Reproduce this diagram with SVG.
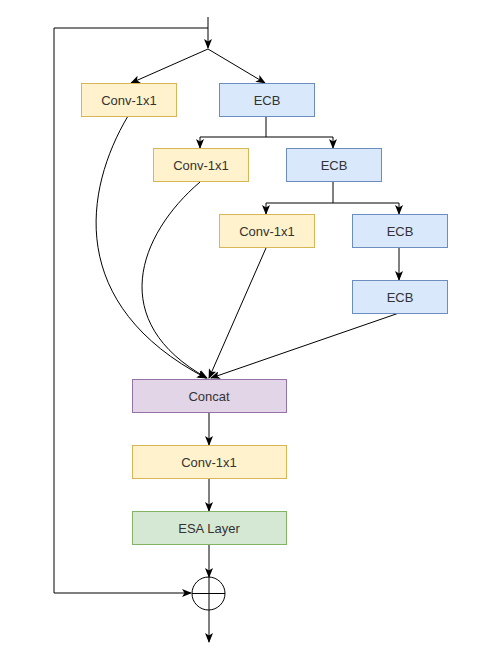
<svg xmlns="http://www.w3.org/2000/svg" width="489" height="658" viewBox="0 0 489 658">
<defs>
<marker id="arr" viewBox="0 0 10 8" refX="9" refY="4" markerWidth="10" markerHeight="8" markerUnits="userSpaceOnUse" orient="auto">
<path d="M0,0 L10,4 L0,8 L2.5,4 Z" fill="#000"/>
</marker>
<style>
text{font-family:"Liberation Sans",Arial,sans-serif;font-size:13px;fill:#333;text-anchor:middle;dominant-baseline:central}
.y{fill:#fff2cc;stroke:#d6b656}
.b{fill:#dae8fc;stroke:#6c8ebf}
.p{fill:#e1d5e7;stroke:#9673a6}
.g{fill:#d5e8d4;stroke:#82b366}
.e{fill:none;stroke:#000;stroke-width:1}
.a{marker-end:url(#arr)}
</style>
</defs>
<rect width="489" height="658" fill="#fff"/>
<g id="connectors">
<path class="e a" d="M208,17 V48"/>
<path class="e" d="M208,28 H54 V593"/>
<path class="e a" d="M54,593 H191"/>
<path class="e a" d="M208,49 L131,83"/>
<path class="e a" d="M208,49 L265,83"/>
<path class="e" d="M266,116 V137 H200 M266,137 H333"/>
<path class="e a" d="M200,137 V148"/>
<path class="e a" d="M333,137 V148"/>
<path class="e" d="M333,182 V203 H266 M333,203 H399"/>
<path class="e a" d="M266,203 V214"/>
<path class="e a" d="M399,203 V214"/>
<path class="e a" d="M399,248 V280"/>
<path class="e a" d="M128,116 C84,190 66,305 206,378"/>
<path class="e a" d="M200,182 C138,235 106,322 207,378"/>
<path class="e a" d="M266,248 L209,378"/>
<path class="e a" d="M399,313 L211,378"/>
<path class="e a" d="M209,412 V445"/>
<path class="e a" d="M209,478 V511"/>
<path class="e a" d="M209,544 V577"/>
<path class="e a" d="M209,577 V642"/>
</g>
<g id="conv1"><rect class="y" x="81.5" y="83.5" width="95" height="33"/><text x="129" y="100">Conv-1x1</text></g>
<g id="ecb1"><rect class="b" x="219.5" y="83.5" width="95" height="33"/><text x="267" y="100">ECB</text></g>
<g id="conv2"><rect class="y" x="153.5" y="148.5" width="95" height="33"/><text x="201" y="165">Conv-1x1</text></g>
<g id="ecb2"><rect class="b" x="286.5" y="148.5" width="95" height="33"/><text x="334" y="165">ECB</text></g>
<g id="conv3"><rect class="y" x="219.5" y="214.5" width="95" height="33"/><text x="267" y="231">Conv-1x1</text></g>
<g id="ecb3"><rect class="b" x="352.5" y="214.5" width="95" height="33"/><text x="400" y="231">ECB</text></g>
<g id="ecb4"><rect class="b" x="352.5" y="280.5" width="95" height="33"/><text x="400" y="297">ECB</text></g>
<g id="concat"><rect class="p" x="132.5" y="379.5" width="154" height="33"/><text x="209" y="396">Concat</text></g>
<g id="conv4"><rect class="y" x="132.5" y="445.5" width="154" height="33"/><text x="209" y="462">Conv-1x1</text></g>
<g id="esa"><rect class="g" x="132.5" y="511.5" width="154" height="33"/><text x="209" y="528">ESA Layer</text></g>
<g id="add"><circle cx="208.5" cy="593.5" r="16.5" fill="none" stroke="#000"/><path d="M192,593.5 H225" stroke="#000"/></g>
</svg>
